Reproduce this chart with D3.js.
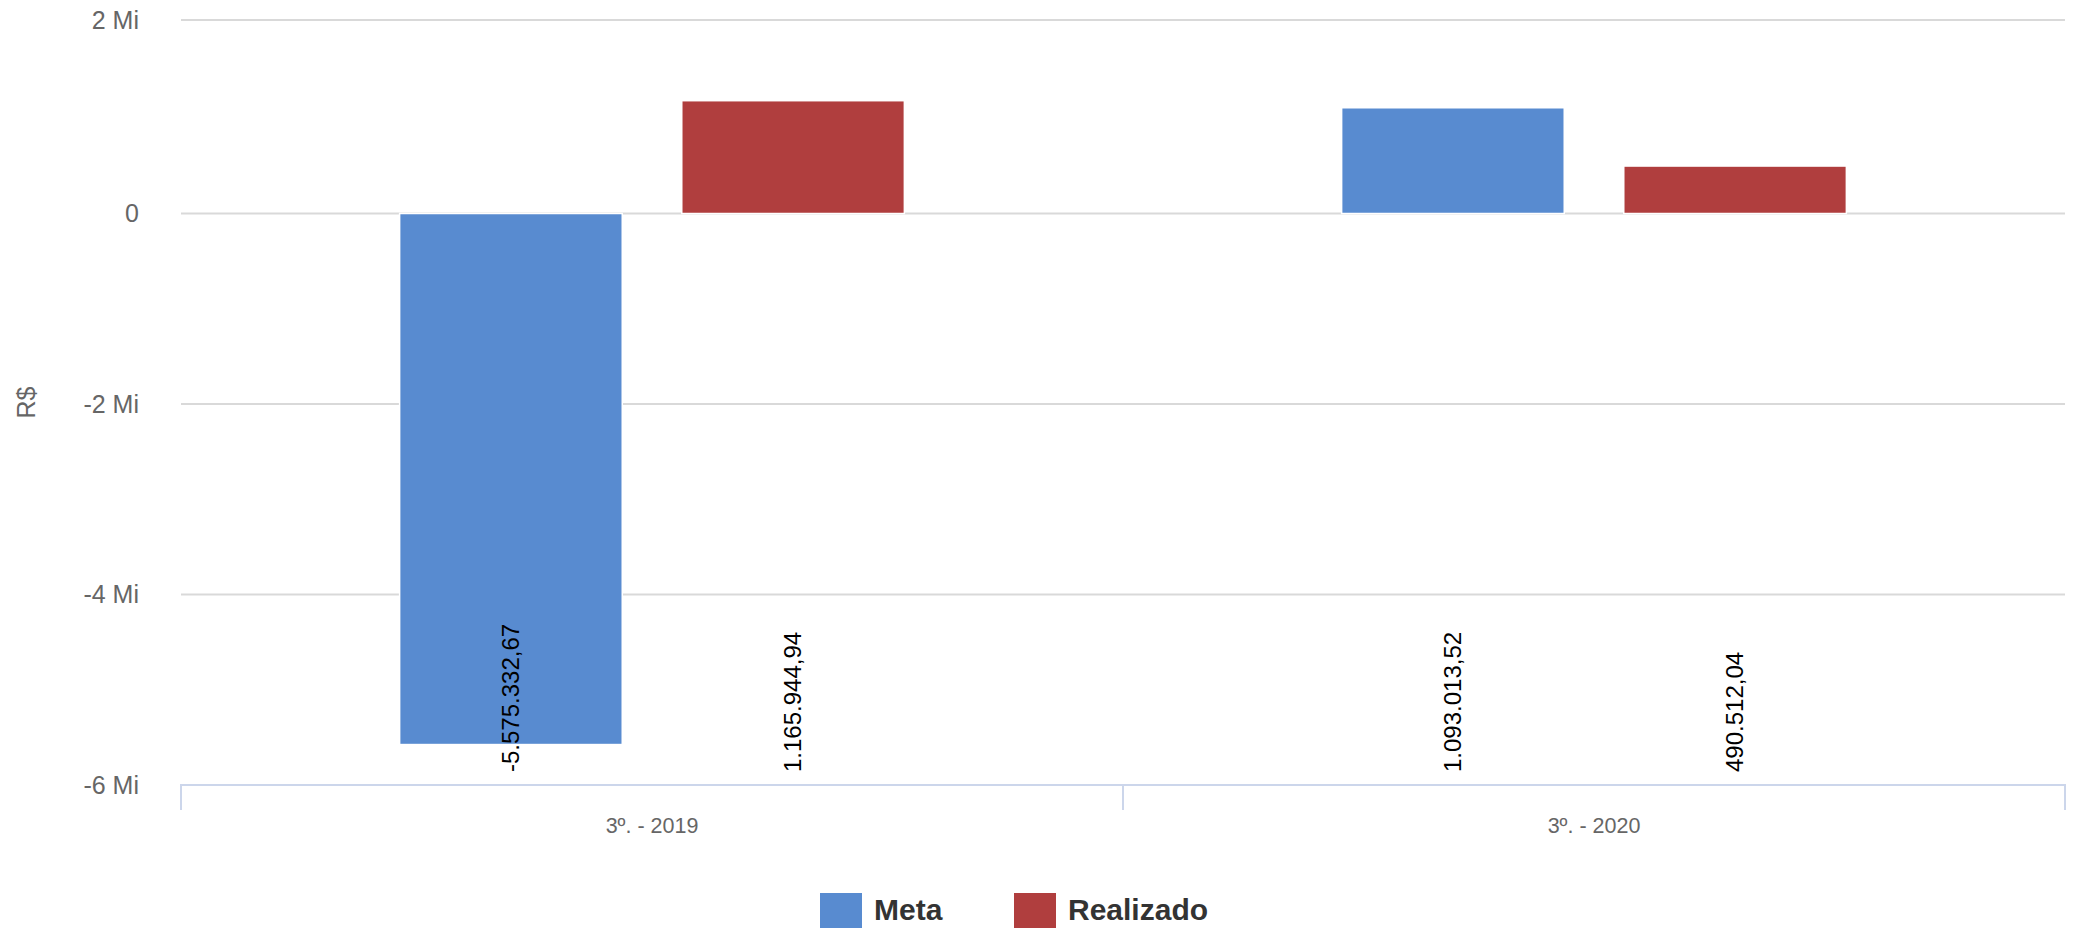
<!DOCTYPE html>
<html>
<head>
<meta charset="utf-8">
<script src="https://cdn.jsdelivr.net/npm/d3@7"></script>
<style>
  html, body { margin: 0; padding: 0; background: #ffffff; }
  svg { display: block; font-family: "Liberation Sans", Arial, sans-serif; }
</style>
</head>
<body>
<svg id="chart" width="2076" height="928"></svg>
<script>
const categories = ["3º. - 2019", "3º. - 2020"];
const seriesNames = ["Meta", "Realizado"];
const metaValues = [-5575332.67, 1093013.52];
const realizadoValues = [1165944.94, 490512.04];
const yTickValues = [-6000000, -4000000, -2000000, 0, 2000000];
const yTickLabels = ["-6 Mi", "-4 Mi", "-2 Mi", "0", "2 Mi"];
const valueLabels = [["-5.575.332,67", "1.093.013,52"], ["1.165.944,94", "490.512,04"]];
const colors = ["#588bd0", "#b03e3e"];
const yTitle = "R$";

const seriesValues = [metaValues, realizadoValues];
const data = categories.map((c, i) => ({
  cat: c,
  vals: seriesNames.map((s, j) => ({ series: s, j, value: seriesValues[j][i], label: valueLabels[j][i] }))
}));

const svg = d3.select("#chart");
const plotLeft = 181, plotRight = 2065, plotTop = 20, plotBottom = 785;

const x0 = d3.scaleBand().domain(categories).range([plotLeft, plotRight]).padding(0);
const x1 = d3.scaleBand().domain(seriesNames).range([0, x0.bandwidth()])
  .paddingInner(0.211).paddingOuter(0.775);
const y = d3.scaleLinear().domain([-6000000, 0, 2000000]).range([plotBottom, 213.5, plotTop]);

// gridlines
const grid = svg.append("g");
grid.selectAll("line").data(yTickValues.filter(v => v !== -6000000)).join("line")
  .attr("x1", plotLeft).attr("x2", plotRight)
  .attr("y1", d => y(d)).attr("y2", d => y(d))
  .attr("stroke", "#d9d9d9").attr("stroke-width", 2);

// y axis labels
const yAxis = d3.axisLeft(y).tickValues(yTickValues)
  .tickFormat(d => yTickLabels[yTickValues.indexOf(d)]).tickSize(0).tickPadding(0);
const gy = svg.append("g").attr("transform", `translate(${plotLeft - 42},0)`).call(yAxis);
gy.select(".domain").remove();
gy.selectAll("text").attr("font-size", 25).attr("fill", "#666666")
  .attr("font-family", "Liberation Sans, Arial, sans-serif");

// y title
svg.append("text").attr("transform", `translate(35,${(plotTop + plotBottom) / 2}) rotate(-90)`)
  .attr("text-anchor", "middle").attr("font-size", 25).attr("fill", "#666666").text(yTitle);

// bars
const groups = svg.append("g").selectAll("g").data(data).join("g")
  .attr("transform", d => `translate(${x0(d.cat)},0)`);
groups.selectAll("rect").data(d => d.vals).join("rect")
  .attr("x", d => x1(d.series))
  .attr("width", x1.bandwidth())
  .attr("y", d => y(Math.max(0, d.value)))
  .attr("height", d => Math.abs(y(d.value) - y(0)))
  .attr("fill", d => colors[d.j])
  .attr("stroke", "#ffffff").attr("stroke-width", 1.5);

// value labels (rotated, anchored near bottom of plot)
groups.selectAll("text").data(d => d.vals).join("text")
  .attr("transform", d => `translate(${x1(d.series) + x1.bandwidth() / 2},${plotBottom - 13}) rotate(-90)`)
  .attr("dy", "0.35em")
  .attr("text-anchor", "start")
  .attr("font-size", 24).attr("fill", "#000000")
  .text(d => d.label);

// x axis
const xAxis = d3.axisBottom(x0).tickSize(0).tickPadding(0);
const gx = svg.append("g").attr("transform", `translate(0,${plotBottom})`).call(xAxis);
gx.select(".domain").remove();
gx.selectAll("text").attr("font-size", 21.5).attr("fill", "#666666").attr("dy", "0")
  .attr("y", 48).attr("font-family", "Liberation Sans, Arial, sans-serif");
svg.append("line").attr("x1", plotLeft - 1).attr("x2", plotRight + 1)
  .attr("y1", plotBottom).attr("y2", plotBottom)
  .attr("stroke", "#ccd6eb").attr("stroke-width", 2);
const tickPos = categories.map(c => x0(c)).concat([plotRight]);
svg.append("g").selectAll("line").data(tickPos).join("line")
  .attr("x1", d => d).attr("x2", d => d)
  .attr("y1", plotBottom).attr("y2", plotBottom + 25)
  .attr("stroke", "#ccd6eb").attr("stroke-width", 2);

// legend
const legendX = [820, 1014];
const leg = svg.append("g").selectAll("g").data(seriesNames).join("g")
  .attr("transform", (d, i) => `translate(${legendX[i]},893)`);
leg.append("rect").attr("width", 42).attr("height", 35).attr("fill", (d, i) => colors[i]);
leg.append("text").attr("x", 54).attr("y", 27).attr("font-size", 30).attr("font-weight", "bold")
  .attr("fill", "#333333").text(d => d);
</script>
</body>
</html>
